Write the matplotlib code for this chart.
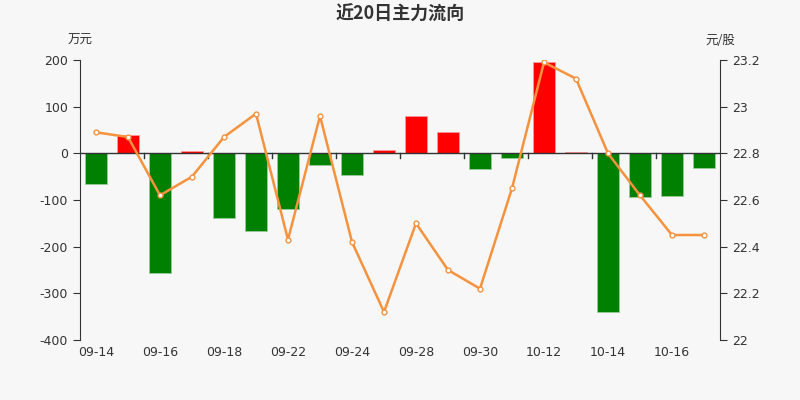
import matplotlib
matplotlib.use("Agg")
import matplotlib.pyplot as plt

plt.rcParams['font.family'] = ['DejaVu Sans', 'Noto Sans CJK SC']

dates = ["09-14", "09-15", "09-16", "09-17", "09-18", "09-21", "09-22", "09-23",
         "09-24", "09-25", "09-28", "09-29", "09-30", "10-09", "10-12", "10-13",
         "10-14", "10-15", "10-16", "10-19"]
flow = [-65, 40, -257, 5, -138, -166, -120, -24, -46, 7,
        80, 46, -34, -9, 195, 3, -339, -93, -92, -32]
price = [22.89, 22.87, 22.62, 22.70, 22.87, 22.97, 22.43, 22.96, 22.42, 22.12,
         22.50, 22.30, 22.22, 22.65, 23.19, 23.12, 22.80, 22.62, 22.45, 22.45]
left_ticks = [-400, -300, -200, -100, 0, 100, 200]
right_ticks = [22, 22.2, 22.4, 22.6, 22.8, 23, 23.2]
right_labels = ["22", "22.2", "22.4", "22.6", "22.8", "23", "23.2"]

bg = "#f7f7f7"
fig = plt.figure(figsize=(8, 4), dpi=100, facecolor=bg)
ax = fig.add_axes([0.1, 0.15, 0.8, 0.70])
ax.set_facecolor(bg)

n = len(dates)
x = list(range(n))
colors = ["#ff0000" if v >= 0 else "#008000" for v in flow]
edges = ["#ff9999" if v >= 0 else "#99cc99" for v in flow]
ax.bar(x, flow, width=0.7, color=colors, edgecolor=edges, linewidth=0.6, zorder=2)

ax.set_xlim(-0.5, n - 0.5)
ax.set_ylim(-400, 200)
ax.set_yticks(left_ticks)
ax.set_yticklabels([str(t) for t in left_ticks])

for s in ["top", "right", "bottom"]:
    ax.spines[s].set_visible(False)
ax.spines["left"].set_color("#333333")
ax.axhline(0, color="#333333", linewidth=1, zorder=3)

ax.set_xticks([])
for i in range(0, n, 2):
    ax.text(i, -412, dates[i], ha="center", va="top", fontsize=9, color="#333333",
            clip_on=False)
for i in range(2, n, 2):
    b = i - 0.5
    ax.plot([b, b], [0, -11], color="#333333", linewidth=1, zorder=3, clip_on=False)

ax.tick_params(axis="y", colors="#333333", labelsize=9, length=5, direction="out")

ax2 = ax.twinx()
ax2.set_ylim(22, 23.2)
ax2.set_yticks(right_ticks)
ax2.set_yticklabels(right_labels)
for s in ["top", "left", "bottom"]:
    ax2.spines[s].set_visible(False)
ax2.spines["right"].set_color("#333333")
ax2.tick_params(axis="y", colors="#333333", labelsize=9, length=5, direction="out")
ax2.plot(x, price, color="#f5923e", linewidth=1.8, marker="o", markersize=3.5,
         markerfacecolor="white", markeredgecolor="#f5923e", markeredgewidth=1, zorder=4)

fig.text(0.5, 0.965, "近20日主力流向", ha="center", va="center", fontsize=13,
         fontweight="bold", color="#333333", family=['Noto Sans CJK SC', 'DejaVu Sans'])
fig.text(0.1, 0.9, "万元", ha="center", va="center", fontsize=9, color="#333333",
         family=['Noto Sans CJK SC', 'DejaVu Sans'])
fig.text(0.9, 0.9, "元/股", ha="center", va="center", fontsize=9, color="#333333",
         family=['Noto Sans CJK SC', 'DejaVu Sans'])

fig.savefig("out.png", dpi=100, facecolor=bg)
